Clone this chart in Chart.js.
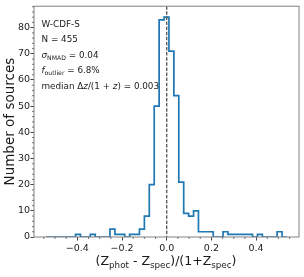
<!DOCTYPE html>
<html>
<head>
<meta charset="UTF-8">
<script src="https://cdn.jsdelivr.net/npm/chart.js"></script>
<style>
    body { margin: 0; background: #fff; }
    canvas { display: block; }
</style>
</head>
<body>
<canvas id="grafico" width="304" height="277"></canvas>
<script>
    // histogram: equal bins starting at binStart
    const binStart = -0.54;
    const binWidth = 0.022;
    const counts = [0, 0, 0, 0, 0, 0, 1, 0, 0, 1,
                    0, 0, 0, 3, 1, 1, 0, 1, 1, 3,
                    8, 20, 50, 83, 84, 71, 54, 21, 9, 8,
                    10, 2, 2, 2, 0, 0, 2, 1, 1, 1,
                    1, 1, 0, 1, 0, 0, 0, 2, 0];
    const refLine = 0;

    const xTicks = [-0.4, -0.2, 0.0, 0.2, 0.4];
    const yTicks = [0, 10, 20, 30, 40, 50, 60, 70, 80];
    const xMinor = [-0.55, -0.5, -0.45, -0.35, -0.3, -0.25, -0.15, -0.1, -0.05,
                    0.05, 0.1, 0.15, 0.25, 0.3, 0.35, 0.45, 0.5, 0.55];
    const yMinor = [2, 4, 6, 8, 12, 14, 16, 18, 22, 24, 26, 28, 32, 34, 36, 38,
                    42, 44, 46, 48, 52, 54, 56, 58, 62, 64, 66, 68, 72, 74, 76, 78,
                    82, 84, 86, 88];

    // annotation lines: t = text, i = italic, s = subscript
    const infoLines = [
        [{ t: "W-CDF-S" }],
        [{ t: "N = 455" }],
        [{ t: "σ", i: true }, { t: "NMAD", s: true }, { t: " = 0.04" }],
        [{ t: "f", i: true }, { t: "outlier", s: true }, { t: " = 6.8%" }],
        [{ t: "median Δ" }, { t: "z", i: true }, { t: "/(1 + " }, { t: "z", i: true }, { t: ") = 0.003" }]
    ];
    const infoBaselines = [27, 41.5, 57.5, 73, 88.5];
    const xTitle = [{ t: "(Z" }, { t: "phot", s: true }, { t: " - Z" }, { t: "spec", s: true },
                    { t: ")/(1+Z" }, { t: "spec", s: true }, { t: ")" }];
    const yTitle = "Number of sources";

    const FONT = '"DejaVu Sans", sans-serif';

    // step outline of the histogram
    let puntos = [{ x: binStart, y: 0 }];
    counts.forEach((c, i) => {
        puntos.push({ x: binStart + i * binWidth, y: c });
        puntos.push({ x: binStart + (i + 1) * binWidth, y: c });
    });
    puntos.push({ x: binStart + counts.length * binWidth, y: 0 });

    function drawRich(ctx, segs, x, y, size, centered) {
        const fontFor = s => (s.i ? "italic " : "") + (s.s ? size * 0.7 : size) + "px " + FONT;
        let total = 0;
        segs.forEach(s => { ctx.font = fontFor(s); s.w = ctx.measureText(s.t).width; total += s.w; });
        let cx = centered ? x - total / 2 : x;
        segs.forEach(s => {
            ctx.font = fontFor(s);
            ctx.fillText(s.t, cx, y + (s.s ? size * 0.25 : 0));
            cx += s.w;
        });
    }

    const extras = {
        id: "extras",
        afterDatasetsDraw(chart) {
            const ctx = chart.ctx;
            const a = chart.chartArea;
            const xs = chart.scales.x, ys = chart.scales.y;
            ctx.save();
            // dashed reference line
            ctx.strokeStyle = "#555";
            ctx.lineWidth = 1.3;
            ctx.setLineDash([3.5, 1.6]);
            const x0 = xs.getPixelForValue(refLine);
            ctx.beginPath(); ctx.moveTo(x0, a.top); ctx.lineTo(x0, a.bottom); ctx.stroke();
            ctx.setLineDash([]);
            // frame
            ctx.strokeStyle = "#808080";
            ctx.lineWidth = 1;
            ctx.strokeRect(a.left, a.top, a.right - a.left, a.bottom - a.top);
            // minor ticks
            ctx.strokeStyle = "#555";
            ctx.lineWidth = 0.8;
            ctx.beginPath();
            xMinor.forEach(v => {
                const p = xs.getPixelForValue(v);
                ctx.moveTo(p, a.bottom); ctx.lineTo(p, a.bottom + 2);
            });
            yMinor.forEach(v => {
                const p = ys.getPixelForValue(v);
                ctx.moveTo(a.left, p); ctx.lineTo(a.left - 2, p);
            });
            ctx.stroke();
            // text
            ctx.fillStyle = "#1a1a1a";
            ctx.textBaseline = "alphabetic";
            ctx.textAlign = "left";
            infoLines.forEach((l, k) => drawRich(ctx, l, 41.5, infoBaselines[k], 8.8, false));
            drawRich(ctx, xTitle, 166, 264.5, 12.5, true);
            ctx.translate(10, (a.top + a.bottom) / 2);
            ctx.rotate(-Math.PI / 2);
            ctx.textAlign = "center";
            ctx.textBaseline = "middle";
            ctx.font = "13.5px " + FONT;
            ctx.fillText(yTitle, 0, 0);
            ctx.restore();
        }
    };

    const ctx = document.getElementById("grafico").getContext("2d");
    const chart = new Chart(ctx, {
        type: "line",
        data: {
            datasets: [{
                data: puntos,
                borderColor: "#1f77b4",
                borderWidth: 1.7,
                pointRadius: 0,
                fill: false,
                tension: 0,
                borderJoinStyle: "miter"
            }]
        },
        options: {
            responsive: false,
            animation: false,
            layout: { padding: { top: 5, right: 5, left: 0, bottom: 0 } },
            plugins: { legend: { display: false }, tooltip: { enabled: false } },
            scales: {
                x: {
                    type: "linear",
                    min: -0.594,
                    max: 0.592,
                    afterBuildTicks: s => { s.ticks = xTicks.map(v => ({ value: v })); },
                    afterFit: s => { s.height = 40; },
                    border: { display: false },
                    grid: { display: true, drawOnChartArea: false, tickLength: 3.5, color: "#444" },
                    ticks: {
                        autoSkip: false, maxRotation: 0, padding: 2, color: "#1a1a1a",
                        font: { family: FONT, size: 9.5 },
                        callback: v => v.toFixed(1).replace("-", "\u2212")
                    }
                },
                y: {
                    min: 0,
                    max: 88.2,
                    afterBuildTicks: s => { s.ticks = yTicks.map(v => ({ value: v })); },
                    afterFit: s => { s.width = 34; },
                    border: { display: false },
                    grid: { display: true, drawOnChartArea: false, tickLength: 3.5, color: "#444" },
                    ticks: {
                        padding: 0.5, color: "#1a1a1a",
                        font: { family: FONT, size: 9.5 },
                        callback: v => String(v)
                    }
                }
            }
        },
        plugins: [extras]
    });
</script>
</body>
</html>
